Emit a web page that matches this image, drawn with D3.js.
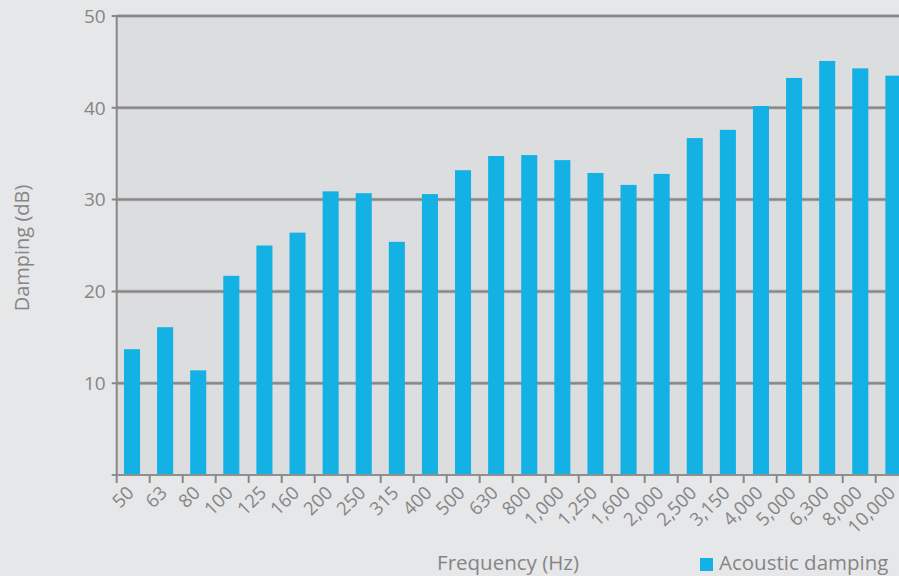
<!DOCTYPE html>
<html><head><meta charset="utf-8">
<script src="https://cdn.jsdelivr.net/npm/d3@7"></script>
<style>
html,body{margin:0;padding:0;background:#e6e7e9;overflow:hidden;}
text{font-family:"Open Sans",sans-serif;fill:#858585;}
</style></head>
<body>
<svg id="c" width="899" height="576"></svg>
<script>
const categories = ["50","63","80","100","125","160","200","250","315","400","500","630","800","1,000","1,250","1,600","2,000","2,500","3,150","4,000","5,000","6,300","8,000","10,000"];
const values = [13.7,16.1,11.4,21.7,25.0,26.4,30.9,30.7,25.4,30.6,33.2,34.75,34.85,34.3,32.9,31.6,32.8,36.7,37.6,40.2,43.25,45.1,44.3,43.5];
const yTicks = [10,20,30,40,50];
const seriesName = "Acoustic damping";
const xTitle = "Frequency (Hz)";
const yTitle = "Damping (dB)";

(function(){
const svg = d3.select("#c");
const pL = 116.7, pR = 908.7, pT = 16, pB = 475;

const x = d3.scaleBand().domain(categories).range([pL, pR]).paddingInner(0.515).paddingOuter(0.22);
const xb = d3.scaleBand().domain(categories).range([pL, pR]).padding(0);
const y = d3.scaleLinear().domain([0, 50]).range([pB, pT]);

svg.append("rect").attr("x", pL).attr("y", pT).attr("width", 899 - pL).attr("height", pB - pT).attr("fill", "#dcdddf");

const g = svg.append("g");
yTicks.forEach(t => {
  g.append("line").attr("x1", pL).attr("x2", 899).attr("y1", y(t)).attr("y2", y(t))
    .attr("stroke", "#b4b5b7").attr("stroke-width", 3.5);
  g.append("line").attr("x1", pL - 5).attr("x2", 899).attr("y1", y(t)).attr("y2", y(t))
    .attr("stroke", "#878787").attr("stroke-width", 2);
});

svg.append("g").selectAll("rect").data(values).join("rect")
  .attr("x", (d, i) => x(categories[i]))
  .attr("width", x.bandwidth())
  .attr("y", d => y(d))
  .attr("height", d => y(0) - y(d))
  .attr("fill", "#14b1e5");

svg.append("line").attr("x1", pL).attr("x2", pL).attr("y1", pT - 1).attr("y2", pB + 1)
  .attr("stroke", "#878787").attr("stroke-width", 2);
svg.append("line").attr("x1", pL - 5).attr("x2", 899).attr("y1", pB).attr("y2", pB)
  .attr("stroke", "#909090").attr("stroke-width", 2);

svg.append("g").selectAll("text").data(yTicks).join("text")
  .attr("x", pL - 11).attr("y", d => y(d)).attr("dy", "0.36em")
  .attr("text-anchor", "end").attr("font-size", 19).text(d => d);

svg.append("g").selectAll("line").data(categories).join("line")
  .attr("x1", d => xb(d)).attr("x2", d => xb(d))
  .attr("y1", pB).attr("y2", pB + 8)
  .attr("stroke", "#878787").attr("stroke-width", 2);

svg.append("g").selectAll("text").data(categories).join("text")
  .attr("transform", d => `translate(${x(d) + x.bandwidth() / 2 + 3},${pB + 19}) rotate(-45)`)
  .attr("text-anchor", "end").attr("font-size", 18.5).text(d => d);

svg.append("text").attr("x", 508).attr("y", 570).attr("text-anchor", "middle").attr("font-size", 20.5).text(xTitle);
svg.append("text").attr("transform", `translate(29,248) rotate(-90)`).attr("text-anchor", "middle").attr("font-size", 20).text(yTitle);

svg.append("rect").attr("x", 700).attr("y", 558).attr("width", 13).attr("height", 13).attr("fill", "#14b1e5");
svg.append("text").attr("x", 719).attr("y", 570).attr("font-size", 20.5).text(seriesName);
})();
</script>
</body></html>
